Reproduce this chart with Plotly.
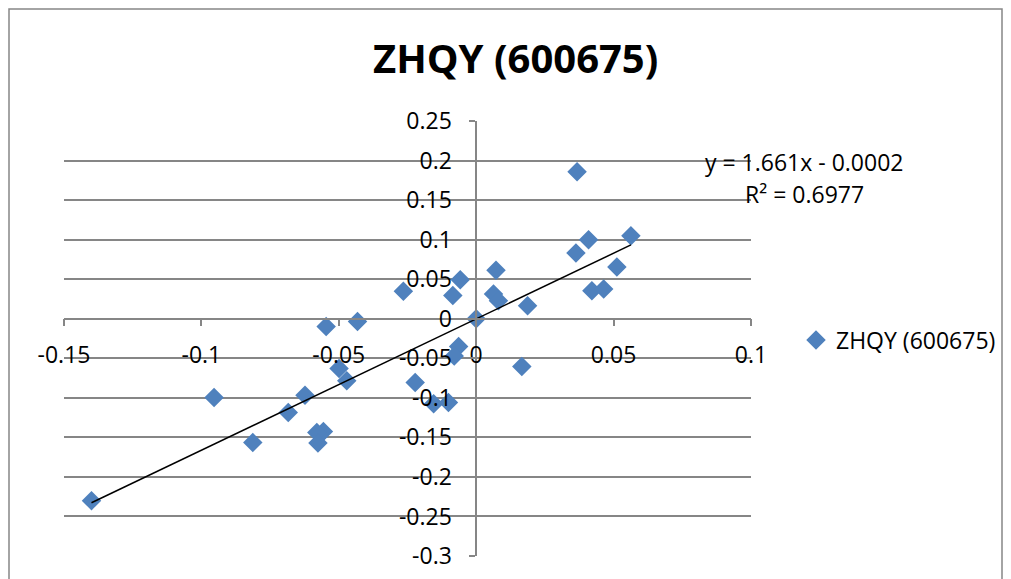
import plotly.graph_objects as go

# ---- data ----
x_vals = [-0.140, -0.0954, -0.0813, -0.0546, -0.0432, -0.0499, -0.0471, -0.0623,
          -0.0684, -0.0556, -0.0580, -0.0576, -0.0265, -0.0058, -0.0085, 0.0000,
          -0.0064, -0.0080, -0.0222, -0.0155, -0.0101, 0.0367, 0.0409, 0.0363,
          0.0563, 0.0512, 0.0421, 0.0464, 0.0072, 0.0063, 0.0081, 0.0187, 0.0166]
y_vals = [-0.230, -0.0996, -0.1566, -0.0097, -0.0034, -0.0629, -0.0785, -0.0966,
          -0.1186, -0.1427, -0.1439, -0.1570, 0.0346, 0.0494, 0.0295, 0.0000,
          -0.0350, -0.0470, -0.0806, -0.1076, -0.1060, 0.1857, 0.1000, 0.0832,
          0.1050, 0.0654, 0.0354, 0.0375, 0.0612, 0.0312, 0.0228, 0.0165, -0.0604]

series_name = "ZHQY (600675)"
trend_slope = 1.661
trend_intercept = -0.0002
eq_text = "y = 1.661x - 0.0002"
r2_text = "R² = 0.6977"

x_tickvals = [-0.15, -0.1, -0.05, 0, 0.05, 0.1]
x_ticktext = ["-0.15", "-0.1", "-0.05", "0", "0.05", "0.1"]
y_tickvals = [0.25, 0.2, 0.15, 0.1, 0.05, 0, -0.05, -0.1, -0.15, -0.2, -0.25, -0.3]
y_ticktext = ["0.25", "0.2", "0.15", "0.1", "0.05", "0", "-0.05", "-0.1", "-0.15",
              "-0.2", "-0.25", "-0.3"]

X_RANGE = [-0.15, 0.1]
Y_RANGE = [-0.3, 0.25]

FONT = "Open Sans"
GRID = "#868686"
BLUE = "#4F81BD"

fig = go.Figure()

fig.add_trace(go.Scatter(
    x=x_vals, y=y_vals, mode="markers", name=series_name,
    marker=dict(symbol="diamond", size=15, color=BLUE, line=dict(width=0)),
))

tx = [min(x_vals), max(x_vals)]
ty = [trend_slope * v + trend_intercept for v in tx]
fig.add_trace(go.Scatter(
    x=tx, y=ty, mode="lines", showlegend=False,
    line=dict(color="black", width=1.5), hoverinfo="skip",
))

# page has an 8px body margin; positions below are page pixels
OFF = 8
W, H = 1011, 579
PL, PR, PT, PB = 64, 751, 121, 556          # plot area in page pixels
L, T = PL - OFF, PT - OFF
R = W - (PR - OFF)
B = H - (PB - OFF)
pw, ph = PR - PL, PB - PT

def px_x(p):
    return (p - PL) / pw

def px_y(p):
    return (PB - p) / ph

x_pos = (0 - Y_RANGE[0]) / (Y_RANGE[1] - Y_RANGE[0])
y_pos = (0 - X_RANGE[0]) / (X_RANGE[1] - X_RANGE[0])

TS = 23

fig.update_layout(
    width=W, height=H,
    margin=dict(l=L, r=R, t=T, b=B),
    paper_bgcolor="white", plot_bgcolor="white",
    font=dict(family=FONT, size=TS, color="black"),
    showlegend=True,
    legend=dict(x=px_x(796), y=px_y(340), xanchor="left", yanchor="middle",
                font=dict(family=FONT, size=TS, color="black"),
                bgcolor="rgba(0,0,0,0)", itemwidth=30),
    xaxis=dict(range=X_RANGE, domain=[0, 1], anchor="free", position=x_pos,
               tickvals=x_tickvals, ticktext=x_ticktext,
               showgrid=False, zeroline=False,
               showline=True, linecolor=GRID, linewidth=1.5,
               ticks="outside", ticklen=7, tickcolor=GRID, tickwidth=1.5,
               ticklabelstandoff=9,
               tickfont=dict(family=FONT, size=TS, color="black")),
    yaxis=dict(range=Y_RANGE, domain=[0, 1], anchor="free", position=y_pos,
               tickvals=y_tickvals, ticktext=y_ticktext,
               showgrid=True, gridcolor=GRID, gridwidth=1.5, zeroline=False,
               showline=True, linecolor=GRID, linewidth=1.5,
               ticks="outside", ticklen=6, tickcolor=GRID, tickwidth=1.5,
               ticklabelstandoff=13,
               tickfont=dict(family=FONT, size=TS, color="black")),
    annotations=[
        dict(text="<b>" + series_name + "</b>", xref="paper", yref="paper",
             x=px_x(515), y=px_y(58), xanchor="center", yanchor="middle",
             showarrow=False, font=dict(family=FONT, size=40, color="black")),
        dict(text=eq_text, xref="paper", yref="paper",
             x=px_x(804), y=px_y(162), xanchor="center", yanchor="middle",
             showarrow=False, font=dict(family=FONT, size=TS, color="black")),
        dict(text=r2_text, xref="paper", yref="paper",
             x=px_x(804), y=px_y(194), xanchor="center", yanchor="middle",
             showarrow=False, font=dict(family=FONT, size=TS, color="black")),
    ],
    shapes=[
        dict(type="rect", xref="paper", yref="paper",
             x0=px_x(9), x1=px_x(1002), y0=px_y(640), y1=px_y(9),
             line=dict(color=GRID, width=1.5), fillcolor="rgba(0,0,0,0)",
             layer="below"),
    ],
)

fig.write_html("out.html")
